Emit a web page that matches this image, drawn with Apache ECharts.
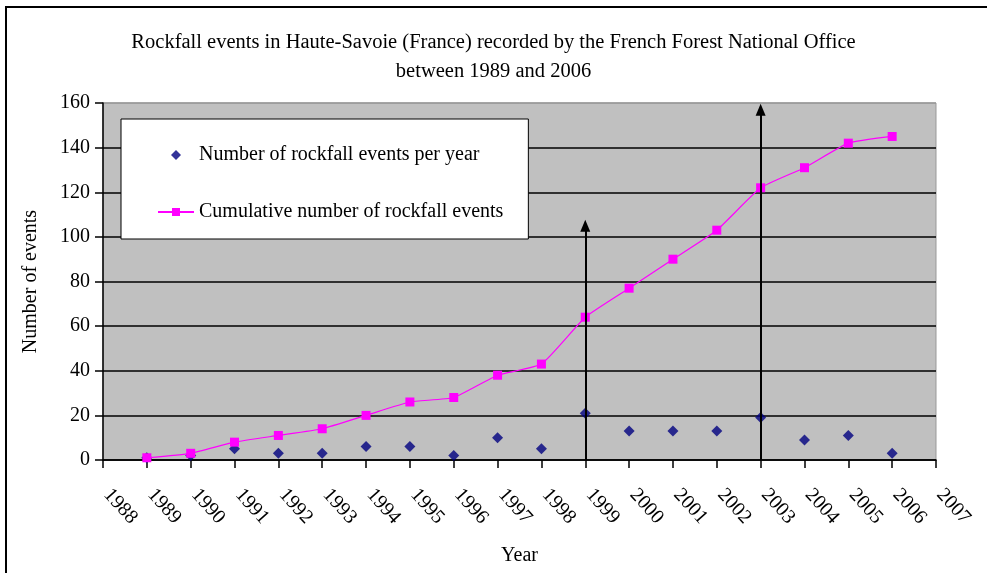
<!DOCTYPE html>
<html>
<head>
<meta charset="utf-8">
<script src="https://cdn.jsdelivr.net/npm/echarts@6/dist/echarts.min.js"></script>
<style>
  html, body { margin: 0; padding: 0; background: #fff; }
  #chart { width: 987px; height: 573px; }
</style>
</head>
<body>
<div id="chart"></div>
<script>
// years with data (x axis runs 1988..2007)
var years = [1989, 1990, 1991, 1992, 1993, 1994, 1995, 1996, 1997, 1998,
             1999, 2000, 2001, 2002, 2003, 2004, 2005, 2006];
// number of rockfall events per year
var perYear = [1, 2, 5, 3, 3, 6, 6, 2, 10, 5, 21, 13, 13, 13, 19, 9, 11, 3];
// cumulative number of rockfall events
var cumulative = [1, 3, 8, 11, 14, 20, 26, 28, 38, 43, 64, 77, 90, 103, 122, 131, 142, 145];
// vertical arrows drawn on the chart: [year, top value]
var arrows = [[1999, 105], [2003, 157]];

var xMin = 1988, xMax = 2007;
var yTicks = [0, 20, 40, 60, 80, 100, 120, 140, 160];

var font = 'Liberation Serif';
var fs = 20;

function pairs(xs, ys) {
    return xs.map(function (x, i) { return [x, ys[i]]; });
}

var chart = echarts.init(document.getElementById('chart'));

var option = {
    backgroundColor: '#fff',
    animation: false,
    textStyle: { fontFamily: font, color: '#000' },
    title: {
        text: 'Rockfall events in Haute-Savoie (France) recorded by the French Forest National Office\nbetween 1989 and 2006',
        left: 'center',
        top: 23,
        textStyle: { fontFamily: font, fontSize: 20.5, fontWeight: 'normal', color: '#000', lineHeight: 29 }
    },
    graphic: [{
        type: 'polyline',
        shape: { points: [[6, 573], [6, 7], [987, 7]] },
        style: { stroke: '#000', lineWidth: 2, fill: null }
    }],
    legend: {
        orient: 'vertical',
        left: 121,
        top: 119,
        padding: [26, 25, 17, 36],
        itemGap: 37,
        itemWidth: 36,
        itemHeight: 10,
        backgroundColor: '#fff',
        borderColor: '#000',
        borderWidth: 1,
        textStyle: { fontFamily: font, fontSize: fs, color: '#000' },
        data: [
            { name: 'Number of rockfall events per year', icon: 'path://M5 0L10 5L5 10L0 5Z' },
            { name: 'Cumulative number of rockfall events' }
        ]
    },
    grid: {
        left: 103,
        right: 51,
        top: 103,
        bottom: 113,
        show: true,
        backgroundColor: '#C0C0C0',
        borderColor: '#999',
        borderWidth: 1
    },
    xAxis: {
        type: 'value',
        min: xMin,
        max: xMax,
        interval: 1,
        name: 'Year',
        nameLocation: 'middle',
        nameGap: 86,
        nameTextStyle: { fontFamily: font, fontSize: fs, color: '#000' },
        axisLine: { show: true, lineStyle: { color: '#000', width: 1.5 } },
        axisTick: { show: true, length: 8, lineStyle: { color: '#000', width: 1.5 } },
        axisLabel: {
            rotate: -48,
            margin: 27,
            padding: [0, 0, 0, 6],
            fontFamily: font,
            fontSize: fs,
            color: '#000',
            formatter: function (v) { return String(v); }
        },
        splitLine: { show: false }
    },
    yAxis: {
        type: 'value',
        min: yTicks[0],
        max: yTicks[yTicks.length - 1],
        interval: 20,
        name: 'Number of events',
        nameLocation: 'middle',
        nameGap: 62,
        nameRotate: 90,
        nameTextStyle: { fontFamily: font, fontSize: fs, color: '#000' },
        axisLine: { show: true, lineStyle: { color: '#000', width: 1.5 } },
        axisTick: { show: true, length: 8, lineStyle: { color: '#000', width: 1.5 } },
        axisLabel: {
            margin: 13,
            fontFamily: font,
            fontSize: fs,
            color: '#000'
        },
        splitLine: {
            show: true,
            lineStyle: {
                color: ['#000', '#000', '#000', '#000', '#000', '#000', '#000', '#000', '#999'],
                width: 1.5
            }
        }
    },
    series: [
        {
            name: 'Number of rockfall events per year',
            type: 'scatter',
            symbol: 'diamond',
            symbolSize: 11,
            itemStyle: { color: '#000080' },
            data: pairs(years, perYear),
            z: 3,
            markLine: {
                silent: true,
                symbol: ['none', 'triangle'],
                symbolSize: [10, 12],
                label: { show: false },
                lineStyle: { color: '#000', width: 2, type: 'solid' },
                data: arrows.map(function (a) {
                    return [{ coord: [a[0], 0] }, { coord: [a[0], a[1]] }];
                })
            }
        },
        {
            name: 'Cumulative number of rockfall events',
            type: 'line',
            symbol: 'rect',
            symbolSize: 9,
            showAllSymbol: true,
            smooth: 0.15,
            itemStyle: { color: '#FF00FF' },
            lineStyle: { color: '#FF00FF', width: 1.2 },
            data: pairs(years, cumulative),
            z: 4
        }
    ]
};

chart.setOption(option);
</script>
</body>
</html>
